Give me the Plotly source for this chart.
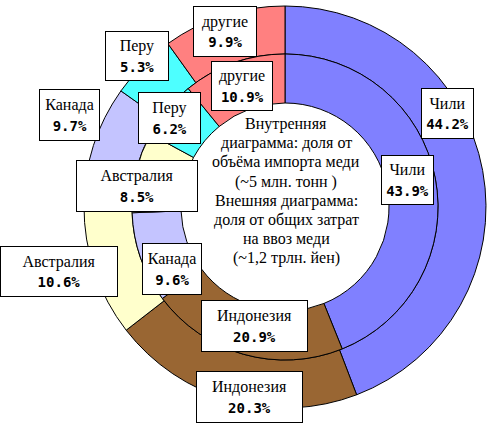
import plotly.graph_objects as go

W, H = 487, 423

# Outer ring: share of total copper import cost (~1.2 trillion yen)
outer_labels = ["Чили", "Индонезия", "Австралия", "Канада", "Перу", "другие"]
outer_values = [44.2, 20.3, 10.6, 9.7, 5.3, 9.9]
# Inner ring: share of copper import volume (~5 mln t)
inner_labels = ["Чили", "Индонезия", "Канада", "Австралия", "Перу", "другие"]
inner_values = [43.9, 20.9, 9.6, 8.5, 6.2, 10.9]

colors = {
    "Чили": "#8080FF",
    "Индонезия": "#996633",
    "Австралия": "#FFFFCC",
    "Канада": "#C4C4FF",
    "Перу": "#4DFFFF",
    "другие": "#FF8080",
}

center_lines = [
    "Внутренняя",
    "диаграмма: доля от",
    "объёма импорта меди",
    "(~5 млн. тонн )",
    "Внешняя диаграмма:",
    "доля от общих затрат",
    "на ввоз меди",
    "(~1,2 трлн. йен)",
]

# label box layout (pixel centre x, centre y, width, height) per ring, keyed by label
outer_boxes = {
    "Чили": (447, 113, 53, 51),
    "Индонезия": (249.5, 397, 107, 52),
    "Австралия": (59, 271, 118, 51),
    "Канада": (69.5, 115, 61, 52),
    "Перу": (137, 56, 64, 50),
    "другие": (225, 31.5, 64, 51),
}
inner_boxes = {
    "Чили": (407.5, 180, 53, 50),
    "Индонезия": (254.5, 326, 107, 52),
    "Канада": (171.7, 269, 60, 52),
    "Австралия": (137, 186, 122, 52),
    "Перу": (169.5, 118, 63, 52),
    "другие": (242, 86, 62, 50),
}

cx, cy = 285, 207
r_out, r_mid, r_hole = 201, 153, 104


def dom(r):
    return dict(x=[(cx - r) / W, (cx + r) / W], y=[(H - cy - r) / H, (H - cy + r) / H])


fig = go.Figure()
fig.add_trace(go.Pie(
    labels=outer_labels, values=outer_values, sort=False, direction="clockwise",
    rotation=0, hole=r_mid / r_out, domain=dom(r_out), textinfo="none",
    marker=dict(colors=[colors[l] for l in outer_labels], line=dict(color="black", width=1)),
    showlegend=False, hoverinfo="label+value",
))
fig.add_trace(go.Pie(
    labels=inner_labels, values=inner_values, sort=False, direction="clockwise",
    rotation=0, hole=r_hole / r_mid, domain=dom(r_mid), textinfo="none",
    marker=dict(colors=[colors[l] for l in inner_labels], line=dict(color="black", width=1)),
    showlegend=False, hoverinfo="label+value",
))

serif = "Liberation Serif"
mono = "DejaVu Sans Mono"
annotations = []


def add_box(label, value, box):
    x, y, w, h = box
    annotations.append(dict(
        x=x / W, y=1 - y / H, xref="paper", yref="paper", xanchor="center", yanchor="middle",
        showarrow=False, width=w - 2, height=h - 2, borderpad=0, borderwidth=1,
        bordercolor="black", bgcolor="white", align="center", valign="middle",
        text=f"{label}<br><span style='font-family:{mono};font-weight:bold;font-size:14px'>{value:.1f}%</span>",
        font=dict(family=serif, size=16, color="black"),
    ))


for l, v in zip(outer_labels, outer_values):
    add_box(l, v, outer_boxes[l])
for l, v in zip(inner_labels, inner_values):
    add_box(l, v, inner_boxes[l])

y0, dy = 124, 19.2
for i, line in enumerate(center_lines):
    annotations.append(dict(
        x=286 / W, y=1 - (y0 + i * dy) / H, xref="paper", yref="paper",
        xanchor="center", yanchor="middle", showarrow=False, text=line,
        font=dict(family=serif, size=16, color="black"),
    ))

fig.update_layout(
    width=W, height=H, margin=dict(l=0, r=0, t=0, b=0),
    paper_bgcolor="white", plot_bgcolor="white", annotations=annotations,
    font=dict(family=serif),
)
fig.write_html(
    "out.html",
    config={"displayModeBar": False},
    post_script="document.body.style.margin='0';document.body.style.overflow='hidden';",
)
